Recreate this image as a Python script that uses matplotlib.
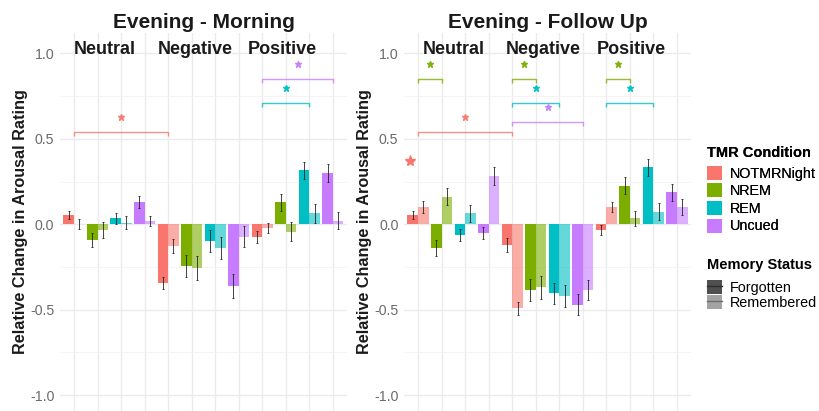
"""Relative change in arousal rating by TMR condition and memory status."""
import numpy as np
import matplotlib
matplotlib.use("Agg")
import matplotlib.pyplot as plt
from matplotlib.patches import Patch
from matplotlib.lines import Line2D
from matplotlib.ticker import MultipleLocator

plt.rcParams["font.family"] = ["Liberation Sans", "DejaVu Sans"]

OUTPUT_PATH = "out.png"

CONDITIONS = ["NOTMRNight", "NREM", "REM", "Uncued"]
VALENCES = ["Neutral", "Negative", "Positive"]
COND_COLORS = ["#F8766D", "#7CAE00", "#00BFC4", "#C77CFF"]
MEMORY = ["Forgotten", "Remembered"]

# order: Neutral (4 conditions), Negative (4), Positive (4)
em_forgotten = [0.054, -0.092, 0.034, 0.128, -0.346, -0.243, -0.10, -0.36,
                -0.073, 0.128, 0.317, 0.30]
em_forgotten_se = [0.025, 0.04, 0.03, 0.035, 0.035, 0.065, 0.065, 0.07,
                   0.035, 0.05, 0.05, 0.05]
em_remembered = [0.0, -0.034, 0.01, 0.02, -0.126, -0.255, -0.14, -0.073,
                 -0.024, -0.044, 0.064, 0.02]
em_remembered_se = [0.03, 0.045, 0.04, 0.03, 0.04, 0.07, 0.065, 0.06,
                    0.03, 0.055, 0.055, 0.05]

ef_forgotten = [0.054, -0.14, -0.063, -0.05, -0.122, -0.385, -0.405, -0.47,
                -0.034, 0.225, 0.333, 0.187]
ef_forgotten_se = [0.025, 0.045, 0.035, 0.035, 0.04, 0.065, 0.06, 0.06,
                   0.03, 0.05, 0.05, 0.05]
ef_remembered = [0.10, 0.16, 0.064, 0.282, -0.493, -0.37, -0.42, -0.385,
                 0.10, 0.034, 0.073, 0.10]
ef_remembered_se = [0.035, 0.05, 0.05, 0.055, 0.04, 0.065, 0.065, 0.06,
                    0.03, 0.045, 0.05, 0.045]

# significance brackets: start position, end position, height, condition index
em_br_start = [1, 9, 9]
em_br_end = [5, 11, 12]
em_br_y = [0.54, 0.71, 0.85]
em_br_cond = [0, 2, 3]

ef_br_start = [1, 5, 5, 5, 1, 9, 9]
ef_br_end = [2, 6, 7, 8, 5, 10, 11]
ef_br_y = [0.85, 0.85, 0.71, 0.60, 0.54, 0.85, 0.71]
ef_br_cond = [1, 1, 2, 3, 0, 1, 2]

# lone star on the follow-up panel
ef_star_x = [0.66]
ef_star_y = [0.37]
ef_star_cond = [0]

TEXT = "#1a1a1a"
TICK = "#6b6b6b"
GRID = "#EBEBEB"
GRID_MINOR = "#F3F3F3"
BAR_W = 0.45


def draw_panel(ax, title, forg, forg_se, rem, rem_se,
               br_start, br_end, br_y, br_cond, label_x):
    pos = np.arange(1, 13)
    colors = [COND_COLORS[i % 4] for i in range(12)]

    ax.bar(pos - BAR_W / 2, forg, width=BAR_W, color=colors, zorder=2)
    ax.bar(pos + BAR_W / 2, rem, width=BAR_W, color=colors, alpha=0.6,
           zorder=2)
    for off, vals, se in [(-BAR_W / 2, forg, forg_se),
                          (BAR_W / 2, rem, rem_se)]:
        ax.errorbar(pos + off, vals, yerr=se, fmt="none", ecolor="#222222",
                    elinewidth=0.6, capsize=1.0, capthick=0.6, zorder=3)

    for x1, x2, y, c in zip(br_start, br_end, br_y, br_cond):
        col = COND_COLORS[c]
        ax.plot([x1, x1, x2, x2], [y - 0.025, y, y, y - 0.025], color=col,
                lw=1.0, alpha=0.8, zorder=3, solid_capstyle="butt")
        ax.plot((x1 + x2) / 2, y + 0.085, marker="*", color=col,
                markersize=5, alpha=0.9, zorder=3)

    for lx, name in zip(label_x, VALENCES):
        ax.text(lx, 1.02, name, ha="center", va="center", fontsize=13,
                fontweight="bold", color=TEXT, zorder=4)

    ax.set_xlim(0.4, 12.6)
    ax.set_ylim(-1.093, 1.12)
    ax.set_xticks(pos)
    ax.set_xticklabels([])
    ax.yaxis.set_minor_locator(MultipleLocator(0.25))
    ax.set_yticks([-1.0, -0.5, 0.0, 0.5, 1.0])
    ax.set_yticklabels(["-1.0", "-0.5", "0.0", "0.5", "1.0"])
    ax.tick_params(axis="both", which="both", length=0)
    ax.tick_params(axis="y", labelsize=10.2, labelcolor=TICK, pad=4)
    ax.grid(True, which="major", color=GRID, lw=1.0, zorder=0)
    ax.grid(True, which="minor", axis="y", color=GRID_MINOR, lw=0.6,
            zorder=0)
    ax.set_axisbelow(True)
    for s in ax.spines.values():
        s.set_visible(False)

    ax.set_ylabel("Relative Change in Arousal Rating", fontsize=11.7,
                  fontweight="bold", color=TEXT)
    ax.yaxis.set_label_coords(-0.112, 0.5)
    ax.set_title(title, fontsize=15, fontweight="bold", color=TEXT, pad=3.5)


def build():
    fig = plt.figure(figsize=(8.2, 4.11), dpi=100)
    ax1 = fig.add_axes([0.0730, 0.0, 0.3502, 0.920])
    ax2 = fig.add_axes([0.4926, 0.0, 0.3502, 0.920])

    draw_panel(ax1, "Evening - Morning", em_forgotten, em_forgotten_se,
               em_remembered, em_remembered_se,
               em_br_start, em_br_end, em_br_y, em_br_cond,
               [2.32, 6.14, 9.87])
    draw_panel(ax2, "Evening - Follow Up", ef_forgotten, ef_forgotten_se,
               ef_remembered, ef_remembered_se,
               ef_br_start, ef_br_end, ef_br_y, ef_br_cond,
               [2.53, 6.33, 10.07])
    for x, y, c in zip(ef_star_x, ef_star_y, ef_star_cond):
        ax2.plot(x, y, marker="*", color=COND_COLORS[c], markersize=8,
                 zorder=3, clip_on=False)

    legend_kw = dict(loc="upper left", frameon=False, fontsize=10.4,
                     borderpad=0, borderaxespad=0, handlelength=1.03,
                     handleheight=1.1, handletextpad=0.55, alignment="left",
                     title_fontproperties={"weight": "bold", "size": 10.5})

    cond_handles = [Patch(facecolor=c, edgecolor="none") for c in COND_COLORS]
    leg1 = fig.legend(cond_handles, CONDITIONS, title="TMR Condition",
                      bbox_to_anchor=(0.862, 0.645), labelspacing=0.19,
                      **legend_kw)
    leg1._legend_box.sep = 4.3
    fig.add_artist(leg1)

    mem_handles = [
        (Patch(facecolor="#4f4f4f", edgecolor="none"),
         Line2D([], [], color="#2e2e2e", lw=1.0)),
        (Patch(facecolor="#a3a3a3", edgecolor="none"),
         Line2D([], [], color="#6e6e6e", lw=1.0)),
    ]
    leg2 = fig.legend(mem_handles, MEMORY, title="Memory Status",
                      bbox_to_anchor=(0.862, 0.372), labelspacing=0.0,
                      **legend_kw)
    leg2._legend_box.sep = 6.0

    plt.savefig(OUTPUT_PATH, dpi=100)
    plt.close()
    print(f"Saved: {OUTPUT_PATH}")


if __name__ == "__main__":
    build()
